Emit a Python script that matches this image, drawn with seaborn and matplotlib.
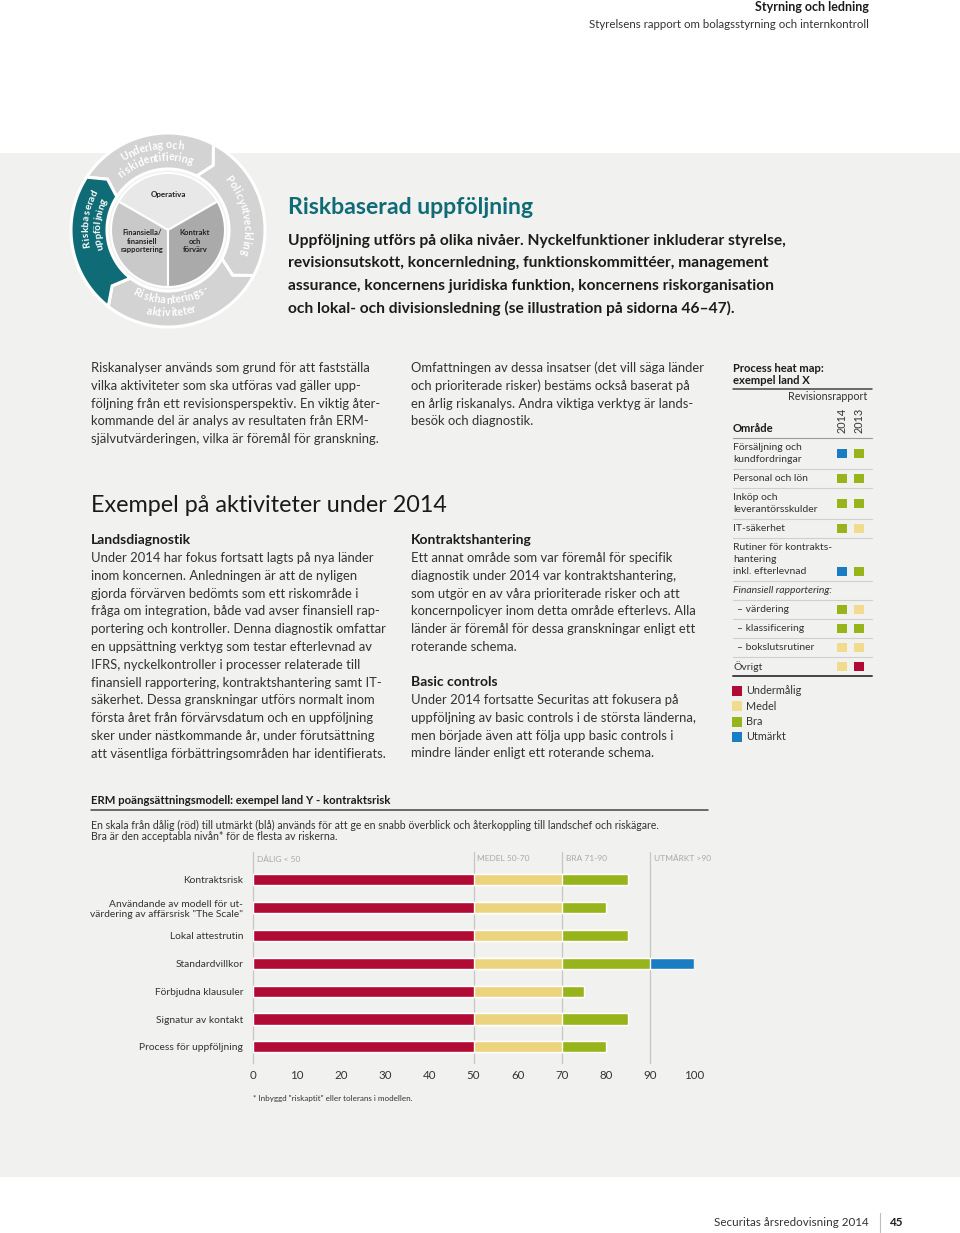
import matplotlib

matplotlib.use("Agg")
import matplotlib.pyplot as plt
import numpy as np
import pandas as pd
import seaborn as sns
from matplotlib.patches import Polygon, Rectangle

# --- Data ---
CATEGORIES = [
    "Kontraktsrisk",
    "Användande av modell för ut-\nvärdering av affärsrisk \"The Scale\"",
    "Lokal attestrutin",
    "Standardvillkor",
    "Förbjudna klausuler",
    "Signatur av kontakt",
    "Process för uppföljning",
]
SCORES = [85, 80, 85, 100, 75, 85, 80]
BAND_LABELS = ["DÅLIG < 50", "MEDEL 50-70", "BRA 71-90", "UTMÄRKT >90"]
BAND_STARTS = [0, 50, 70, 90]
BAND_ENDS = [50, 70, 90, 100]
X_TICKS = list(range(0, 101, 10))

HEAT_AREAS = [
    "Försäljning och\nkundfordringar",
    "Personal och lön",
    "Inköp och\nleverantörsskulder",
    "IT-säkerhet",
    "Rutiner för kontrakts-\nhantering\ninkl. efterlevnad",
    "Finansiell rapportering:",
    "– värdering",
    "– klassificering",
    "– bokslutsrutiner",
    "Övrigt",
]
HEAT_YEARS = ["2014", "2013"]
HEAT_2014 = ["Utmärkt", "Bra", "Bra", "Bra", "Utmärkt", None, "Bra", "Bra", "Medel", "Medel"]
HEAT_2013 = ["Bra", "Bra", "Bra", "Medel", "Bra", None, "Medel", "Bra", "Medel", "Undermålig"]
RATINGS = ["Undermålig", "Medel", "Bra", "Utmärkt"]

# --- Style ---
RED = "#b10b35"
YELLOW = "#ecd47e"
GREEN = "#97b41a"
BLUE = "#1a7cc2"
TEAL = "#0f6c77"
BG = "#f1f1ef"
TXT = "#333333"
DARK = "#1c1c1c"
RATING_COLORS = dict(zip(RATINGS, [RED, "#f1dc8e", GREEN, BLUE]))
BAND_COLORS = [RED, YELLOW, GREEN, BLUE]

sns.set_theme(style="white")
plt.rcParams["font.family"] = ["Lato", "DejaVu Sans"]

fig = plt.figure(figsize=(9.6, 12.33), dpi=100)
page = fig.add_axes([0, 0, 1, 1], zorder=0)
page.set_xlim(0, 960)
page.set_ylim(1233, 0)
page.axis("off")

page.add_patch(Rectangle((0, 153), 960, 1024, facecolor=BG, edgecolor="none", zorder=0))


def txt(x, y, s, size=9.4, weight="normal", color=TXT, **kw):
    kw.setdefault("va", "center")
    page.text(x, y, s, fontsize=size, fontweight=weight, color=color, **kw)


def lines(x, y0, rows, step=17.8, **kw):
    for i, s in enumerate(rows):
        txt(x, y0 + i * step, s, **kw)


# header
txt(869, 7, "Styrning och ledning", size=9, weight="bold", color=DARK, ha="right")
txt(869, 25, "Styrelsens rapport om bolagsstyrning och internkontroll", size=8.3, ha="right")

# --- circle diagram ---
CX, CY = 168, 230
R_PIE, R_IN, R_OUT = 57, 61, 97
R_MID = (R_IN + R_OUT) / 2


def arc(r, a1, a2, n=80):
    a = np.radians(np.linspace(a1, a2, n))
    return np.column_stack([CX + r * np.cos(a), CY - r * np.sin(a)])


def pt(r, a):
    a = np.radians(a)
    return np.array([[CX + r * np.cos(a), CY - r * np.sin(a)]])


ring = [(147, 62, "#d3d3d3"), (62, -28, "#d3d3d3"), (-28, -128, "#d3d3d3"), (232, 147, TEAL)]
for a1, a2, col in ring:
    poly = np.vstack([arc(R_OUT, a1, a2), pt(R_MID, a2 - 7), arc(R_IN, a2, a1), pt(R_MID, a1 - 7)])
    page.add_patch(Polygon(poly, closed=True, facecolor=col, edgecolor="white", lw=2.2, zorder=3))

for a1, a2, col in [(30, 150, "#e8e8e8"), (150, 270, "#c9c9c9"), (270, 390, "#aaaaaa")]:
    poly = np.vstack([[[CX, CY]], arc(R_PIE, a1, a2)])
    page.add_patch(Polygon(poly, closed=True, facecolor=col, edgecolor="white", lw=1.5, zorder=3))


def char_w(c):
    if c in "ijlfrt.,-:'|":
        return 0.32
    if c == " ":
        return 0.26
    if c in "mw":
        return 0.85
    if c.isupper():
        return 0.68
    return 0.56


def arc_text(s, r, center, size=7.6, clockwise=True, color="white"):
    em = size * 100 / 72
    widths = [char_w(c) * em for c in s]
    total = sum(widths)
    pos = 0
    for c, w in zip(s, widths):
        off = np.degrees((pos + w / 2 - total / 2) / r)
        a = center - off if clockwise else center + off
        rot = a - 90 if clockwise else a + 90
        x, y = pt(r, a)[0]
        page.text(x, y, c, fontsize=size, fontweight="bold", color=color, ha="center",
                  va="center", rotation=rot, rotation_mode="anchor", zorder=5)
        pos += w


arc_text("Underlag och", 85, 101)
arc_text("riskidentifiering", 73, 101)
arc_text("Policyutveckling", 79, 12)
arc_text("Riskhanterings-", 70, -88, clockwise=False)
arc_text("aktiviteter", 83, -88, clockwise=False)
arc_text("Riskbaserad", 82, 172, size=7.2)
arc_text("uppföljning", 70, 175, size=7.2)

txt(168, 194, "Operativa", size=5.8, weight="bold", color="#222222", ha="center", zorder=5)
txt(142, 241, "Finansiella/\nfinansiell\nrapportering", size=5.5, weight="bold",
    color="#222222", ha="center", linespacing=1.25, zorder=5)
txt(195, 241, "Kontrakt\noch\nförvärv", size=5.5, weight="bold", color="#222222",
    ha="center", linespacing=1.25, zorder=5)

# --- intro ---
txt(288, 207, "Riskbaserad uppföljning", size=16.6, weight="bold", color=TEAL)
lines(288, 241, [
    "Uppföljning utförs på olika nivåer. Nyckelfunktioner inkluderar styrelse,",
    "revisionsutskott, koncernledning, funktionskommittéer, management",
    "assurance, koncernens juridiska funktion, koncernens riskorganisation",
    "och lokal- och divisionsledning (se illustration på sidorna 46–47).",
], step=22.4, size=11.25, weight="bold", color=DARK)

lines(91, 368, [
    "Riskanalyser används som grund för att fastställa",
    "vilka aktiviteter som ska utföras vad gäller upp-",
    "följning från ett revisionsperspektiv. En viktig åter-",
    "kommande del är analys av resultaten från ERM-",
    "självutvärderingen, vilka är föremål för granskning.",
])
lines(411, 368, [
    "Omfattningen av dessa insatser (det vill säga länder",
    "och prioriterade risker) bestäms också baserat på",
    "en årlig riskanalys. Andra viktiga verktyg är lands-",
    "besök och diagnostik.",
])

txt(91, 505, "Exempel på aktiviteter under 2014", size=16.8, color="#1a1a1a")
txt(91, 540, "Landsdiagnostik", size=10, weight="bold", color=DARK)
lines(91, 558, [
    "Under 2014 har fokus fortsatt lagts på nya länder",
    "inom koncernen. Anledningen är att de nyligen",
    "gjorda förvärven bedömts som ett riskområde i",
    "fråga om integration, både vad avser finansiell rap-",
    "portering och kontroller. Denna diagnostik omfattar",
    "en uppsättning verktyg som testar efterlevnad av",
    "IFRS, nyckelkontroller i processer relaterade till",
    "finansiell rapportering, kontraktshantering samt IT-",
    "säkerhet. Dessa granskningar utförs normalt inom",
    "första året från förvärvsdatum och en uppföljning",
    "sker under nästkommande år, under förutsättning",
    "att väsentliga förbättringsområden har identifierats.",
])
txt(411, 540, "Kontraktshantering", size=10, weight="bold", color=DARK)
lines(411, 558, [
    "Ett annat område som var föremål för specifik",
    "diagnostik under 2014 var kontraktshantering,",
    "som utgör en av våra prioriterade risker och att",
    "koncernpolicyer inom detta område efterlevs. Alla",
    "länder är föremål för dessa granskningar enligt ett",
    "roterande schema.",
])
txt(411, 682, "Basic controls", size=10, weight="bold", color=DARK)
lines(411, 700, [
    "Under 2014 fortsatte Securitas att fokusera på",
    "uppföljning av basic controls i de största länderna,",
    "men började även att följa upp basic controls i",
    "mindre länder enligt ett roterande schema.",
])

# --- heat map ---
HX0, HX1, HTOP = 733, 872, 438
txt(733, 368, "Process heat map:", size=8.1, weight="bold", color=DARK)
txt(733, 381, "exempel land X", size=8.1, weight="bold", color=DARK)
page.plot([HX0, HX1], [389, 389], color="#444444", lw=1.1)
txt(867, 397, "Revisionsrapport", size=7.7, ha="right")
for i, yr in enumerate(HEAT_YEARS):
    txt(842 + 17 * i, 420, yr, size=7.8, rotation=90, ha="center")
txt(733, 428, "Område", size=8.1, weight="bold", color=DARK)
page.plot([HX0, HX1], [HTOP, HTOP], color="#9a9a9a", lw=0.8)

PAD, LINE_H = 7, 12
n_lines = [a.count("\n") + 1 for a in HEAT_AREAS]
row_h = [PAD + LINE_H * n for n in n_lines]
row_top = np.concatenate([[0], np.cumsum(row_h)[:-1]])
sq_y = [t + PAD / 2 + LINE_H * (n / 2 if n <= 2 else n - 0.5) for t, n in zip(row_top, n_lines)]
total_h = sum(row_h)

for area, top, n, h in zip(HEAT_AREAS, row_top, n_lines, row_h):
    style = "italic" if area.endswith(":") else "normal"
    x = 737 if area.startswith("–") else 733
    for j, s in enumerate(area.split("\n")):
        txt(x, HTOP + top + PAD / 2 + LINE_H * (j + 0.5), s, size=7.5, style=style)
    last = top + h >= total_h - 0.1
    page.plot([HX0, HX1], [HTOP + top + h] * 2, color="#444444" if last else "#cfcfcf",
              lw=1.4 if last else 0.8)

heat_ax = fig.add_axes([HX0 / 960, 1 - (HTOP + total_h) / 1233, (HX1 - HX0) / 960, total_h / 1233],
                       zorder=2)
heat_ax.patch.set_alpha(0)
heat_df = pd.DataFrame({
    "year": [0] * len(HEAT_AREAS) + [1] * len(HEAT_AREAS),
    "y": sq_y * 2,
    "rating": HEAT_2014 + HEAT_2013,
}).dropna()
sns.scatterplot(data=heat_df, x="year", y="y", hue="rating", palette=RATING_COLORS, marker="s",
                s=42, linewidth=0, legend=False, ax=heat_ax)
heat_ax.set_xlim((HX0 - 842) / 17, (HX1 - 842) / 17)
heat_ax.set_ylim(total_h, 0)
heat_ax.axis("off")

for i, r in enumerate(RATINGS):
    y = 691 + 15.3 * i
    page.scatter([737], [y], marker="s", s=42, color=RATING_COLORS[r], linewidths=0, zorder=3)
    txt(746, y, r, size=7.8)

# --- ERM scoring chart ---
txt(91, 801, "ERM poängsättningsmodell: exempel land Y - kontraktsrisk", size=8.2, weight="bold",
    color=DARK)
page.plot([91, 708], [810, 810], color="#444444", lw=1.1)
txt(91, 825, "En skala från dålig (röd) till utmärkt (blå) används för att ge en snabb överblick "
    "och återkoppling till landschef och riskägare.", size=7.6)
txt(91, 837, "Bra är den acceptabla nivån* för de flesta av riskerna.", size=7.6)

X0, X100, YTOP, YBOT = 253, 694, 852, 1063
bar_ax = fig.add_axes([X0 / 960, 1 - YBOT / 1233, (X100 - X0) / 960, (YBOT - YTOP) / 1233], zorder=2)
bar_ax.patch.set_alpha(0)

for end, col in zip(BAND_ENDS[::-1], BAND_COLORS[::-1]):
    sns.barplot(x=np.minimum(SCORES, end), y=CATEGORIES, orient="h", color=col, saturation=1,
                width=0.4, ax=bar_ax, zorder=2)

for start, label in zip(BAND_STARTS, BAND_LABELS):
    bar_ax.axvline(start, color="#c6c6c6", lw=0.9, zorder=1, clip_on=False)
    bar_ax.text(start + 0.9, -0.75, label, fontsize=6.0, color="#a9a9a9", va="center")

bar_ax.set_xlim(0, 100)
bar_ax.set_ylim(6.58, -1.0)
bar_ax.set_xticks(X_TICKS)
bar_ax.set_xlabel("")
bar_ax.set_ylabel("")
bar_ax.tick_params(axis="x", length=0, pad=5, labelsize=8.3, labelcolor=TXT)
bar_ax.tick_params(axis="y", length=0, pad=7, labelsize=7.4, labelcolor=TXT)
for sp in bar_ax.spines.values():
    sp.set_visible(False)

txt(253, 1098, "* Inbyggd \"riskaptit\" eller tolerans i modellen.", size=5.8)

# footer
txt(869, 1222, "Securitas årsredovisning 2014", size=8.4, ha="right")
page.plot([880, 880], [1213, 1232], color="#bdbdbd", lw=0.8)
txt(890, 1222, "45", size=8.4, weight="bold", color=DARK)

fig.savefig("out.png", dpi=100)
